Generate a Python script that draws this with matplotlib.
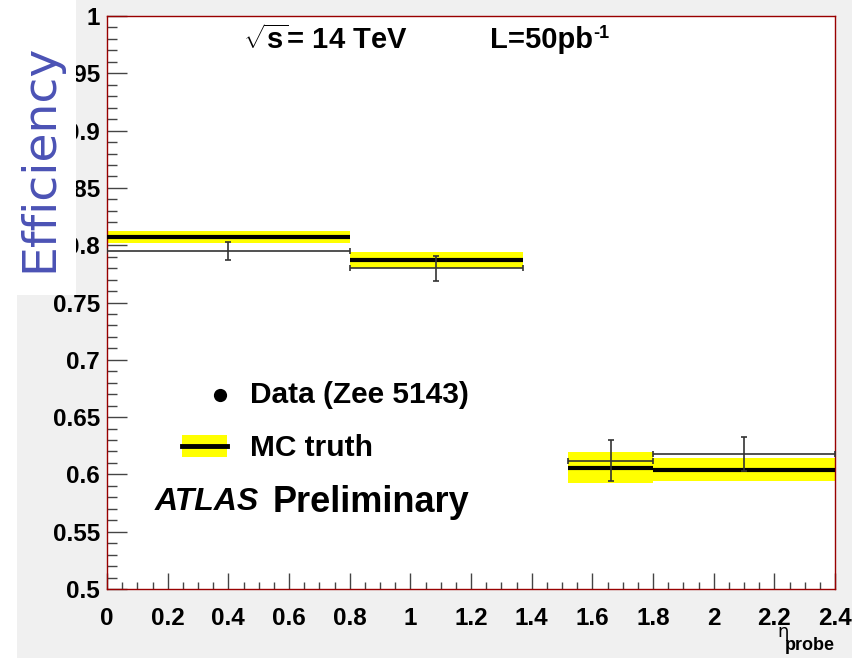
import matplotlib
matplotlib.use('Agg')
import matplotlib.pyplot as plt
from matplotlib.patches import Rectangle
from matplotlib.ticker import MultipleLocator, FuncFormatter
import numpy as np

# eta bins (low / high edges)
bin_lo = np.array([0.0, 0.8, 1.52, 1.8])
bin_hi = np.array([0.8, 1.37, 1.8, 2.4])

# tag-and-probe efficiency from data
data_eff = np.array([0.795, 0.780, 0.612, 0.618])
data_err = np.array([0.008, 0.011, 0.018, 0.015])

# MC truth efficiency and its uncertainty band
mc_eff = np.array([0.807, 0.787, 0.606, 0.604])
mc_err = np.array([0.0055, 0.007, 0.0137, 0.010])

plt.rcParams['font.family'] = ['Liberation Sans', 'DejaVu Sans']
plt.rcParams['mathtext.fontset'] = 'custom'
plt.rcParams['mathtext.rm'] = 'Liberation Sans:bold'
plt.rcParams['mathtext.bf'] = 'Liberation Sans:bold'
plt.rcParams['mathtext.it'] = 'Liberation Sans:bold'

W, H = 852, 658
fig = plt.figure(figsize=(W / 100, H / 100), dpi=100)
fig.patch.set_facecolor('white')

# grey canvas
fig.patches.append(Rectangle((17 / W, 0), 1 - 17 / W, 1, transform=fig.transFigure,
                             facecolor='#f0f0f0', edgecolor='none', zorder=-10))

ax = fig.add_axes([107 / W, 69 / H, 728 / W, 573 / H])
ax.set_facecolor('white')

centers = (bin_lo + bin_hi) / 2
half = (bin_hi - bin_lo) / 2

# MC band + central line
ax.bar(bin_lo, 2 * mc_err, width=bin_hi - bin_lo, bottom=mc_eff - mc_err,
       align='edge', color='#ffff00', edgecolor='none', zorder=2)
ax.hlines(mc_eff, bin_lo, bin_hi, color='black', linewidth=3, zorder=3)

# data points
ax.errorbar(centers, data_eff, xerr=half, yerr=data_err, fmt='none',
            ecolor='#333333', elinewidth=1.2, capsize=2.5, capthick=1.2, zorder=4)

ax.set_xlim(0, 2.4)
ax.set_ylim(0.5, 1.0)
ax.xaxis.set_major_locator(MultipleLocator(0.2))
ax.xaxis.set_minor_locator(MultipleLocator(0.05))
ax.yaxis.set_major_locator(MultipleLocator(0.05))
ax.yaxis.set_minor_locator(MultipleLocator(0.01))
ax.xaxis.set_major_formatter(FuncFormatter(lambda v, p: f'{v:g}'))
ax.yaxis.set_major_formatter(FuncFormatter(lambda v, p: f'{v:g}'))

ax.tick_params(axis='both', which='both', direction='in', color='#444444', width=1,
               top=False, right=False)
ax.tick_params(axis='y', which='major', length=14.4, pad=5, labelsize=17.5)
ax.tick_params(axis='y', which='minor', length=7.2)
ax.tick_params(axis='x', which='major', length=11.5, pad=13, labelsize=17.5)
ax.tick_params(axis='x', which='minor', length=5)
for lab in ax.get_xticklabels() + ax.get_yticklabels():
    lab.set_fontweight('bold')
for s in ax.spines.values():
    s.set_color('#990000')
    s.set_linewidth(1)

# legend drawn by hand
tr = ax.transAxes
ax.plot([0.155], [0.3386], 'o', color='black', markersize=8.5, transform=tr, clip_on=False)
ax.text(0.1964, 0.3386, 'Data (Zee 5143)', transform=tr, fontsize=21.5,
        fontweight='bold', va='center', ha='left')
ax.add_patch(Rectangle((0.103, 0.2304), 0.062, 0.0384, transform=tr,
                       facecolor='#ffff00', edgecolor='none', zorder=5))
ax.plot([0.103, 0.165], [0.2496, 0.2496], color='black', linewidth=3.5,
        transform=tr, zorder=6)
ax.text(0.1964, 0.246, 'MC truth', transform=tr, fontsize=21.5,
        fontweight='bold', va='center', ha='left')
ax.text(0.0659, 0.1518, 'ATLAS', transform=tr, fontsize=23, fontweight='bold',
        style='italic', va='center', ha='left')
ax.text(0.228, 0.1518, 'Preliminary', transform=tr, fontsize=26,
        fontweight='bold', va='center', ha='left')

ax.text(0.1868, 0.958, r'$\sqrt{s}$= 14 TeV', transform=tr, fontsize=21,
        fontweight='bold', va='center', ha='left')
lumi = ax.text(0.526, 0.958, 'L=50pb', transform=tr, fontsize=21,
               fontweight='bold', va='center', ha='left')
ax.annotate('-1', xy=(1, 1), xycoords=lumi, xytext=(0.5, 1), textcoords='offset points',
            fontsize=13, fontweight='bold', ha='left', va='top')

# x axis title
fig.text(783 / W, 1 - 632 / H, 'η', fontsize=13, family='DejaVu Sans',
         ha='center', va='center')
fig.text(835 / W, 1 - 645 / H, 'probe', fontsize=13, fontweight='bold',
         ha='right', va='center')

# white label box with the y title
fig.patches.append(Rectangle((0, 1 - 295 / H), 76 / W, 295 / H, transform=fig.transFigure,
                             facecolor='white', edgecolor='none', zorder=20))
fig.text(40 / W, 1 - 158 / H, 'Efficiency', rotation=90, fontsize=34,
         family='DejaVu Sans', color='#4b52b5', ha='center', va='center', zorder=21)

fig.savefig('out.png', dpi=100, facecolor=fig.get_facecolor())
